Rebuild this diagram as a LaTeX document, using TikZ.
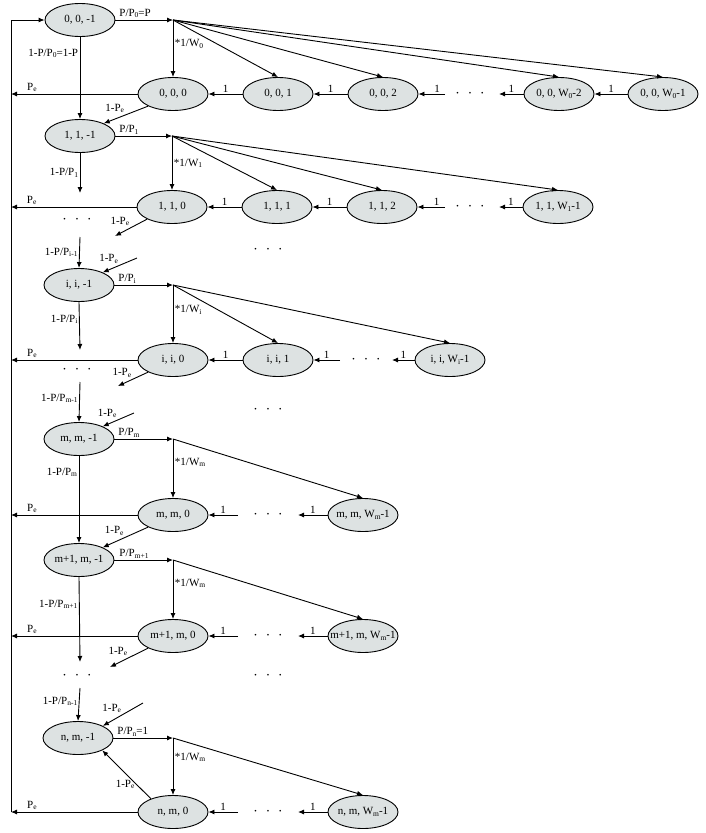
\documentclass[tikz,border=0pt]{standalone}
\usepackage{fontspec}
\setmainfont{Liberation Serif}
\usetikzlibrary{shapes.geometric,arrows.meta,calc}
\definecolor{stfill}{RGB}{221,226,226}
\newcommand{\lsub}[1]{\raisebox{-0.25ex}{\fontsize{7.5}{8}\selectfont #1}}
\newcommand{\stt}[1]{\makebox[0pt][c]{#1}}
\newcommand{\threedots}{\textbullet\hspace{10pt}\textbullet\hspace{10pt}\textbullet}
\begin{document}
\begin{tikzpicture}[x=1pt,y=-1pt, font=\fontsize{11}{13}\selectfont,
 st/.style={ellipse, draw, line width=0.9pt, fill=stfill, minimum width=70pt, minimum height=33pt, inner sep=0pt},
 arr/.style={-{Latex[length=6pt,width=5pt]}, line width=0.9pt},
 lab/.style={inner sep=1.5pt, font=\fontsize{11}{13}\selectfont},
 dts/.style={inner sep=0pt, font=\fontsize{7}{7}\selectfont}]
\useasboundingbox (0,0) rectangle (705,833);
\coordinate (L) at (11,812);
% ---------- nodes ----------
\node[st] (a0) at (80,20) {\stt{0, 0, -1}};
\node[st] (b00) at (173,94) {\stt{0, 0, 0}};
\node[st] (b01) at (278,94) {\stt{0, 0, 1}};
\node[st] (b02) at (383,94) {\stt{0, 0, 2}};
\node[dts] (d0) at (470,94) {\threedots};
\node[st] (b0a) at (559,94) {\stt{0, 0, W\lsub{0}-2}};
\node[st] (b0b) at (663,94) {\stt{0, 0, W\lsub{0}-1}};
\coordinate (f0) at (173,20);

\node[st] (a1) at (80,136) {\stt{1, 1, -1}};
\node[st] (b10) at (172,207) {\stt{1, 1, 0}};
\node[st] (b11) at (277,207) {\stt{1, 1, 1}};
\node[st] (b12) at (382,207) {\stt{1, 1, 2}};
\node[dts] (d1) at (470,207) {\threedots};
\node[st] (b1b) at (558,207) {\stt{1, 1, W\lsub{1}-1}};
\coordinate (f1) at (172,136);
\node[dts] (ld1) at (77,220) {\threedots};
\node[dts] (md1) at (268,250) {\threedots};

\node[st] (ai) at (79,285) {\stt{i, i, -1}};
\node[st] (bi0) at (173,360) {\stt{i, i, 0}};
\node[st] (bi1) at (278,360) {\stt{i, i, 1}};
\node[dts] (di) at (366,360) {\threedots};
\node[st] (bib) at (450,360) {\stt{i, i, W\lsub{i}-1}};
\coordinate (fi) at (173,285);
\node[dts] (ldi) at (77,370) {\threedots};
\node[dts] (mdi) at (268,410) {\threedots};

\node[st] (am) at (79,439) {\stt{m, m, -1}};
\node[st] (bm0) at (173,515) {\stt{m, m, 0}};
\node[dts] (dm) at (268,515) {\threedots};
\node[st] (bmb) at (363,515) {\stt{m, m, W\lsub{m}-1}};
\coordinate (fm) at (173,439);

\node[st] (am1) at (79,560) {\stt{m+1, m, -1}};
\node[st] (bm10) at (173,636) {\stt{m+1, m, 0}};
\node[dts] (dm1) at (268,636) {\threedots};
\node[st] (bm1b) at (363,636) {\stt{m+1, m, W\lsub{m}-1}};
\coordinate (fm1) at (173,560);
\node[dts] (ldm1) at (77,676) {\threedots};
\node[dts] (mdm1) at (268,676) {\threedots};

\node[st] (an) at (78,738) {\stt{n, m, -1}};
\node[st] (bn0) at (173,812) {\stt{n, m, 0}};
\node[dts] (dn) at (268,812) {\threedots};
\node[st] (bnb) at (363,812) {\stt{n, m, W\lsub{m}-1}};
\coordinate (fn) at (173,738);

% ---------- left return line ----------
\draw[arr] (L) -- (L |- a0.west) -- (a0.west);

% ---------- row 0 ----------
\draw[arr] (a0.east) -- node[lab, above right, pos=0, xshift=2pt]{P/P\lsub{0}=P} (f0);
\draw[arr] (f0) -- node[lab, right, pos=0.42]{*1/W\lsub{0}} (b00.north);
\foreach \t in {b01,b02,b0a,b0b} \draw[arr] (f0) -- (\t.north);
\draw[arr] (b0b.west) -- node[lab, above]{1} (b0a.east);
\coordinate (e0) at (499,94);
\draw[arr] (b0a.west) -- node[lab, above]{1} (e0);
\coordinate (s0) at (445,94);
\draw[arr] (s0) -- node[lab, above, pos=0.3]{1} (b02.east);
\draw[arr] (b02.west) -- node[lab, above]{1} (b01.east);
\draw[arr] (b01.west) -- node[lab, above]{1} (b00.east);
\draw[arr] (b00.west) -- node[lab, above, pos=0.835]{P\lsub{e}} (b00.west -| L);
\draw[arr] (a0.south) -- node[lab, left, pos=0.2]{1-P/P\lsub{0}=1-P} (a1.north);
\draw[arr] (b00.206) -- node[lab, above left, pos=0.5]{1-P\lsub{e}} (a1.28);

% ---------- row 1 ----------
\draw[arr] (a1.east) -- node[lab, above right, pos=0, xshift=2pt]{P/P\lsub{1}} (f1);
\draw[arr] (f1) -- node[lab, right, pos=0.5]{*1/W\lsub{1}} (b10.north);
\foreach \t in {b11,b12,b1b} \draw[arr] (f1) -- (\t.north);
\coordinate (e1) at (499,207);
\draw[arr] (b1b.west) -- node[lab, above]{1} (e1);
\coordinate (s1) at (445,207);
\draw[arr] (s1) -- node[lab, above, pos=0.3]{1} (b12.east);
\draw[arr] (b12.west) -- node[lab, above]{1} (b11.east);
\draw[arr] (b11.west) -- node[lab, above]{1} (b10.east);
\draw[arr] (b10.west) -- node[lab, above, pos=0.835]{P\lsub{e}} (b10.west -| L);
\coordinate (v1) at (80,193);
\draw[arr] (a1.south) -- node[lab, left, pos=0.5]{1-P/P\lsub{1}} (v1);
\coordinate (p1) at (115,236);
\draw[arr] (b10.206) -- node[lab, above left, pos=0.5]{1-P\lsub{e}} (p1);
\coordinate (v1s) at (80,237);
\draw[arr] (v1s) -- node[lab, left, pos=0.5]{1-P/P\lsub{i-1}} (ai.north);
\coordinate (q1) at (137,258);
\draw[arr] (q1) -- node[lab, above left, pos=0.5]{1-P\lsub{e}} (ai.28);

% ---------- row i ----------
\draw[arr] (ai.east) -- node[lab, above right, pos=0, xshift=2pt]{P/P\lsub{i}} (fi);
\draw[arr] (fi) -- node[lab, right, pos=0.43]{*1/W\lsub{i}} (bi0.north);
\foreach \t in {bi1,bib} \draw[arr] (fi) -- (\t.north);
\coordinate (ei) at (392,360);
\draw[arr] (bib.west) -- node[lab, above]{1} (ei);
\coordinate (si) at (340,360);
\draw[arr] (si) -- node[lab, above]{1} (bi1.east);
\draw[arr] (bi1.west) -- node[lab, above]{1} (bi0.east);
\draw[arr] (bi0.west) -- node[lab, above, pos=0.835]{P\lsub{e}} (bi0.west -| L);
\coordinate (vi) at (80,350);
\draw[arr] (ai.south) -- node[lab, left, pos=0.36]{1-P/P\lsub{i}} (vi);
\coordinate (pi) at (118,386);
\draw[arr] (bi0.206) -- node[lab, above left, pos=0.5]{1-P\lsub{e}} (pi);
\coordinate (vis) at (80,382);
\draw[arr] (vis) -- node[lab, left, pos=0.4]{1-P/P\lsub{m-1}} (am.north);
\coordinate (qi) at (134,413);
\draw[arr] (qi) -- node[lab, above left, pos=0.5]{1-P\lsub{e}} (am.28);

% ---------- row m ----------
\draw[arr] (am.east) -- node[lab, above right, pos=0, xshift=2pt]{P/P\lsub{m}} (fm);
\draw[arr] (fm) -- node[lab, right, pos=0.39]{*1/W\lsub{m}} (bm0.north);
\draw[arr] (fm) -- (bmb.north);
\coordinate (em) at (298,515);
\draw[arr] (bmb.west) -- node[lab, above]{1} (em);
\coordinate (sm) at (238,515);
\draw[arr] (sm) -- node[lab, above]{1} (bm0.east);
\draw[arr] (bm0.west) -- node[lab, above, pos=0.835]{P\lsub{e}} (bm0.west -| L);
\draw[arr] (am.south) -- node[lab, left, pos=0.19]{1-P/P\lsub{m}} (am1.north);
\draw[arr] (bm0.206) -- node[lab, above left, pos=0.5]{1-P\lsub{e}} (am1.28);

% ---------- row m+1 ----------
\draw[arr] (am1.east) -- node[lab, above right, pos=0, xshift=3pt]{P/P\lsub{m+1}} (fm1);
\draw[arr] (fm1) -- node[lab, right, pos=0.39]{*1/W\lsub{m}} (bm10.north);
\draw[arr] (fm1) -- (bm1b.north);
\coordinate (em1) at (298,636);
\draw[arr] (bm1b.west) -- node[lab, above]{1} (em1);
\coordinate (sm1) at (238,636);
\draw[arr] (sm1) -- node[lab, above]{1} (bm10.east);
\draw[arr] (bm10.west) -- node[lab, above, pos=0.835]{P\lsub{e}} (bm10.west -| L);
\coordinate (vm1) at (80,662);
\draw[arr] (am1.south) -- node[lab, left, pos=0.32]{1-P/P\lsub{m+1}} (vm1);
\coordinate (pm1) at (110,667);
\draw[arr] (bm10.206) -- node[lab, above left, pos=0.5]{1-P\lsub{e}} (pm1);
\coordinate (vm1s) at (80,688);
\draw[arr] (vm1s) -- node[lab, left, pos=0.4]{1-P/P\lsub{n-1}} (an.north);
\coordinate (qm1) at (143,703);
\draw[arr] (qm1) -- node[lab, above left, pos=0.5]{1-P\lsub{e}} (an.26);

% ---------- row n ----------
\draw[arr] (an.east) -- node[lab, above right, pos=0, xshift=2pt]{P/P\lsub{n}=1} (fn);
\draw[arr] (fn) -- node[lab, right, pos=0.34]{*1/W\lsub{m}} (bn0.north);
\draw[arr] (fn) -- (bnb.north);
\coordinate (en) at (298,812);
\draw[arr] (bnb.west) -- node[lab, above]{1} (en);
\coordinate (sn) at (238,812);
\draw[arr] (sn) -- node[lab, above]{1} (bn0.east);
\draw[arr] (bn0.west) -- node[lab, above, pos=0.835]{P\lsub{e}} (L);
\draw[arr] (bn0.149) -- node[lab, left, pos=0.3]{1-P\lsub{e}} (an.333);
\end{tikzpicture}
\end{document}
